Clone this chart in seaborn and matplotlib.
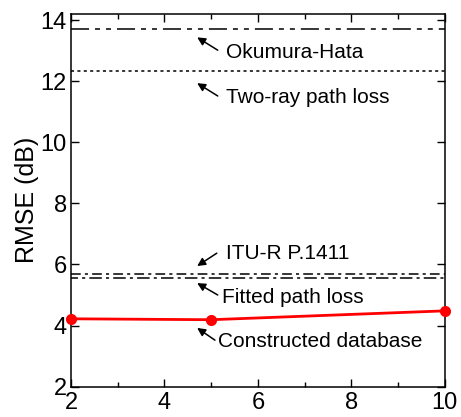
import matplotlib
matplotlib.use("Agg")
import matplotlib.pyplot as plt
import seaborn as sns
import pandas as pd
from matplotlib.ticker import MultipleLocator

# data
x_vals = [2, 5, 10]
constructed = [4.22, 4.19, 4.48]
okumura_hata = 13.7
two_ray = 12.34
itu_r = 5.69
fitted = 5.56

x_ticks = [2, 4, 6, 8, 10]
y_ticks = [2, 4, 6, 8, 10, 12, 14]

sns.set_style("ticks")
plt.rcParams['font.family'] = ['Liberation Sans', 'DejaVu Sans']
plt.rcParams['lines.scale_dashes'] = False
plt.rcParams['text.color'] = 'black'
plt.rcParams['axes.labelcolor'] = 'black'
plt.rcParams['xtick.color'] = 'black'
plt.rcParams['ytick.color'] = 'black'

fig = plt.figure(figsize=(4.61, 4.17), dpi=100)
ax = fig.add_axes([0.154, 0.073, 0.811, 0.893])

df = pd.DataFrame({"x": x_vals, "rmse": constructed})
sns.lineplot(data=df, x="x", y="rmse", ax=ax, color="#ff0000", lw=2.0,
             marker="o", markersize=8, markeredgewidth=0, zorder=5, clip_on=False)

blk = "black"
ax.axhline(okumura_hata, color=blk, lw=1.1, ls=(0, (13, 4.3, 3.6, 4.3, 3.6, 4.3)))
ax.axhline(two_ray, color=blk, lw=1.1, ls=(0, (2.2, 2.4)))
ax.axhline(itu_r, color=blk, lw=1.1, ls=(0, (7, 3, 2.2, 3)))
ax.axhline(fitted, color=blk, lw=1.1, ls=(4, (9, 3, 2.2, 3)))

ax.set_xlim(2, 10)
ax.set_ylim(2, 14.2)
ax.set_xticks(x_ticks)
ax.set_yticks(y_ticks)
ax.xaxis.set_minor_locator(MultipleLocator(1))
ax.tick_params(which="both", direction="in", top=True, right=True, width=1.0, labelsize=17, pad=3)
ax.tick_params(which="major", length=6)
ax.tick_params(which="minor", length=3.5)
ax.tick_params(axis="x", pad=4)
for s in ax.spines.values():
    s.set_linewidth(1.1)
    s.set_color("black")

ax.set_xlabel("")
ax.set_ylabel("RMSE (dB)", fontsize=18, labelpad=1)

ann = [
    ("Okumura-Hata", (4.70, 13.44), (5.14, 13.02), (5.32, 12.95)),
    ("Two-ray path loss", (4.70, 11.94), (5.14, 11.52), (5.32, 11.48)),
    ("ITU-R P.1411", (4.70, 5.95), (5.12, 6.37), (5.32, 6.37)),
    ("Fitted path loss", (4.70, 5.39), (5.14, 5.0), (5.23, 4.93)),
    ("Constructed database", (4.70, 3.92), (5.08, 3.52), (5.15, 3.46)),
]
for txt, tip, tail, pos in ann:
    ax.text(pos[0], pos[1], txt, fontsize=15, va="center", ha="left", color="black")
    ax.annotate("", xy=tip, xytext=tail,
                arrowprops=dict(arrowstyle="-|>", color="black", lw=1.1,
                                mutation_scale=12, shrinkA=0, shrinkB=0))

fig.savefig("out.png", dpi=100)
